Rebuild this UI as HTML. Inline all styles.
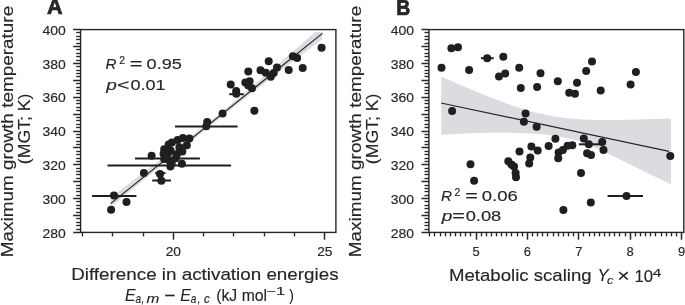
<!DOCTYPE html>
<html><head><meta charset="utf-8"><style>html,body{margin:0;padding:0;background:#fff;width:685px;height:305px;overflow:hidden}body{position:relative;font-family:"Liberation Sans", sans-serif}</style></head><body>
<svg width="685" height="305" viewBox="0 0 685 305" style="position:absolute;left:0;top:0;will-change:transform" font-family='"Liberation Sans", sans-serif' fill="#262626">
<style>text{stroke:#262626;stroke-width:0.15px}</style>
<polygon points="110.60,197.60 117.66,192.25 124.72,186.90 131.78,181.54 138.84,176.17 145.90,170.80 152.96,165.41 160.02,160.01 167.08,154.60 174.14,149.17 181.20,143.71 188.26,138.23 195.32,132.71 202.38,127.15 209.44,121.55 216.50,115.90 223.56,110.18 230.62,104.38 237.68,98.51 244.74,92.59 251.80,86.62 258.86,80.61 265.92,74.59 272.98,68.54 280.04,62.47 287.10,56.39 294.16,50.31 301.22,44.21 308.28,38.11 315.34,32.01 322.40,32.00 322.40,38.90 315.34,44.28 308.28,49.66 301.22,55.05 294.16,60.45 287.10,65.85 280.04,71.27 272.98,76.69 265.92,82.13 258.86,87.58 251.80,93.05 244.74,98.55 237.68,104.08 230.62,109.65 223.56,115.25 216.50,120.90 209.44,126.58 202.38,132.27 195.32,137.98 188.26,143.70 181.20,149.42 174.14,155.17 167.08,160.92 160.02,166.68 152.96,172.45 145.90,178.22 138.84,184.01 131.78,189.80 124.72,195.59 117.66,201.39 110.60,207.20" fill="#dbdcdf"/>
<polygon points="441.20,76.80 455.00,82.60 470.00,88.90 482.00,93.90 495.00,98.90 508.00,104.00 520.00,108.20 530.00,111.20 540.00,113.60 553.00,116.30 567.00,118.30 583.00,119.50 600.00,120.00 620.00,119.90 645.00,119.30 671.00,118.50 671.00,184.50 650.00,174.20 620.00,159.60 600.00,149.80 580.00,141.00 555.00,135.70 540.00,134.00 520.00,133.00 500.00,132.50 470.00,133.20 441.20,134.80" fill="#dbdcdf"/>
<line x1="110.60" y1="203.60" x2="322.40" y2="33.40" stroke="#262626" stroke-width="1.2" stroke-linecap="butt"/>
<line x1="441.00" y1="103.00" x2="669.00" y2="151.30" stroke="#262626" stroke-width="1.2" stroke-linecap="butt"/>
<line x1="92.10" y1="195.90" x2="136.40" y2="195.90" stroke="#1f1f1f" stroke-width="2.0" stroke-linecap="butt"/>
<line x1="152.20" y1="180.50" x2="171.00" y2="180.50" stroke="#1f1f1f" stroke-width="2.0" stroke-linecap="butt"/>
<line x1="155.20" y1="173.10" x2="165.40" y2="173.10" stroke="#1f1f1f" stroke-width="2.0" stroke-linecap="butt"/>
<line x1="107.50" y1="165.60" x2="231.10" y2="165.60" stroke="#1f1f1f" stroke-width="2.0" stroke-linecap="butt"/>
<line x1="135.00" y1="158.40" x2="199.90" y2="158.40" stroke="#1f1f1f" stroke-width="2.0" stroke-linecap="butt"/>
<line x1="175.00" y1="126.60" x2="237.60" y2="126.60" stroke="#1f1f1f" stroke-width="2.0" stroke-linecap="butt"/>
<line x1="229.20" y1="94.20" x2="243.70" y2="94.20" stroke="#1f1f1f" stroke-width="2.0" stroke-linecap="butt"/>
<line x1="480.90" y1="58.20" x2="493.70" y2="58.20" stroke="#1f1f1f" stroke-width="2.0" stroke-linecap="butt"/>
<line x1="578.90" y1="144.30" x2="602.20" y2="144.30" stroke="#1f1f1f" stroke-width="2.0" stroke-linecap="butt"/>
<line x1="607.60" y1="195.90" x2="643.00" y2="195.90" stroke="#1f1f1f" stroke-width="2.0" stroke-linecap="butt"/>
<circle cx="114.00" cy="195.60" r="4.0" fill="#1f1f1f"/>
<circle cx="126.50" cy="202.00" r="4.0" fill="#1f1f1f"/>
<circle cx="111.10" cy="209.70" r="4.0" fill="#1f1f1f"/>
<circle cx="143.90" cy="172.90" r="4.0" fill="#1f1f1f"/>
<circle cx="160.00" cy="174.00" r="4.0" fill="#1f1f1f"/>
<circle cx="161.40" cy="180.70" r="4.0" fill="#1f1f1f"/>
<circle cx="151.60" cy="155.80" r="4.0" fill="#1f1f1f"/>
<circle cx="189.40" cy="138.40" r="4.0" fill="#1f1f1f"/>
<circle cx="182.90" cy="138.00" r="4.0" fill="#1f1f1f"/>
<circle cx="177.60" cy="140.00" r="4.0" fill="#1f1f1f"/>
<circle cx="171.90" cy="142.40" r="4.0" fill="#1f1f1f"/>
<circle cx="168.70" cy="144.60" r="4.0" fill="#1f1f1f"/>
<circle cx="186.80" cy="145.30" r="4.0" fill="#1f1f1f"/>
<circle cx="179.40" cy="147.30" r="4.0" fill="#1f1f1f"/>
<circle cx="164.20" cy="149.20" r="4.0" fill="#1f1f1f"/>
<circle cx="170.60" cy="150.40" r="4.0" fill="#1f1f1f"/>
<circle cx="177.00" cy="154.30" r="4.0" fill="#1f1f1f"/>
<circle cx="182.30" cy="151.50" r="4.0" fill="#1f1f1f"/>
<circle cx="163.60" cy="153.80" r="4.0" fill="#1f1f1f"/>
<circle cx="168.50" cy="152.30" r="4.0" fill="#1f1f1f"/>
<circle cx="166.50" cy="157.60" r="4.0" fill="#1f1f1f"/>
<circle cx="169.10" cy="160.20" r="4.0" fill="#1f1f1f"/>
<circle cx="175.70" cy="158.20" r="4.0" fill="#1f1f1f"/>
<circle cx="171.70" cy="163.50" r="4.0" fill="#1f1f1f"/>
<circle cx="170.40" cy="166.60" r="4.0" fill="#1f1f1f"/>
<circle cx="181.90" cy="163.80" r="4.0" fill="#1f1f1f"/>
<circle cx="164.20" cy="159.00" r="4.0" fill="#1f1f1f"/>
<circle cx="207.20" cy="122.00" r="4.0" fill="#1f1f1f"/>
<circle cx="206.30" cy="126.20" r="4.0" fill="#1f1f1f"/>
<circle cx="222.60" cy="113.60" r="4.0" fill="#1f1f1f"/>
<circle cx="254.40" cy="110.80" r="4.0" fill="#1f1f1f"/>
<circle cx="230.70" cy="84.40" r="4.0" fill="#1f1f1f"/>
<circle cx="236.20" cy="91.00" r="4.0" fill="#1f1f1f"/>
<circle cx="236.30" cy="93.70" r="4.0" fill="#1f1f1f"/>
<circle cx="245.30" cy="82.50" r="4.0" fill="#1f1f1f"/>
<circle cx="249.60" cy="81.20" r="4.0" fill="#1f1f1f"/>
<circle cx="248.30" cy="85.60" r="4.0" fill="#1f1f1f"/>
<circle cx="252.00" cy="88.30" r="4.0" fill="#1f1f1f"/>
<circle cx="248.30" cy="71.40" r="4.0" fill="#1f1f1f"/>
<circle cx="260.50" cy="70.30" r="4.0" fill="#1f1f1f"/>
<circle cx="265.80" cy="72.80" r="4.0" fill="#1f1f1f"/>
<circle cx="270.80" cy="76.80" r="4.0" fill="#1f1f1f"/>
<circle cx="273.70" cy="73.00" r="4.0" fill="#1f1f1f"/>
<circle cx="277.00" cy="67.40" r="4.0" fill="#1f1f1f"/>
<circle cx="268.70" cy="61.20" r="4.0" fill="#1f1f1f"/>
<circle cx="288.70" cy="69.90" r="4.0" fill="#1f1f1f"/>
<circle cx="292.90" cy="56.20" r="4.0" fill="#1f1f1f"/>
<circle cx="297.10" cy="58.00" r="4.0" fill="#1f1f1f"/>
<circle cx="302.70" cy="67.90" r="4.0" fill="#1f1f1f"/>
<circle cx="321.60" cy="47.70" r="4.0" fill="#1f1f1f"/>
<circle cx="451.40" cy="48.30" r="4.0" fill="#1f1f1f"/>
<circle cx="458.00" cy="47.20" r="4.0" fill="#1f1f1f"/>
<circle cx="441.50" cy="67.70" r="4.0" fill="#1f1f1f"/>
<circle cx="469.10" cy="70.10" r="4.0" fill="#1f1f1f"/>
<circle cx="487.20" cy="58.20" r="4.0" fill="#1f1f1f"/>
<circle cx="503.30" cy="56.70" r="4.0" fill="#1f1f1f"/>
<circle cx="505.20" cy="73.60" r="4.0" fill="#1f1f1f"/>
<circle cx="499.00" cy="76.60" r="4.0" fill="#1f1f1f"/>
<circle cx="519.20" cy="67.70" r="4.0" fill="#1f1f1f"/>
<circle cx="520.80" cy="88.10" r="4.0" fill="#1f1f1f"/>
<circle cx="537.10" cy="86.90" r="4.0" fill="#1f1f1f"/>
<circle cx="540.50" cy="73.20" r="4.0" fill="#1f1f1f"/>
<circle cx="557.80" cy="81.20" r="4.0" fill="#1f1f1f"/>
<circle cx="577.00" cy="82.80" r="4.0" fill="#1f1f1f"/>
<circle cx="586.20" cy="70.90" r="4.0" fill="#1f1f1f"/>
<circle cx="592.00" cy="61.50" r="4.0" fill="#1f1f1f"/>
<circle cx="569.20" cy="92.70" r="4.0" fill="#1f1f1f"/>
<circle cx="575.00" cy="93.80" r="4.0" fill="#1f1f1f"/>
<circle cx="600.70" cy="90.40" r="4.0" fill="#1f1f1f"/>
<circle cx="630.60" cy="84.60" r="4.0" fill="#1f1f1f"/>
<circle cx="635.90" cy="72.00" r="4.0" fill="#1f1f1f"/>
<circle cx="452.10" cy="111.10" r="4.0" fill="#1f1f1f"/>
<circle cx="525.60" cy="113.60" r="4.0" fill="#1f1f1f"/>
<circle cx="523.90" cy="121.70" r="4.0" fill="#1f1f1f"/>
<circle cx="536.60" cy="126.80" r="4.0" fill="#1f1f1f"/>
<circle cx="555.40" cy="138.70" r="4.0" fill="#1f1f1f"/>
<circle cx="548.60" cy="145.90" r="4.0" fill="#1f1f1f"/>
<circle cx="531.40" cy="146.50" r="4.0" fill="#1f1f1f"/>
<circle cx="537.70" cy="150.50" r="4.0" fill="#1f1f1f"/>
<circle cx="519.50" cy="151.50" r="4.0" fill="#1f1f1f"/>
<circle cx="530.30" cy="157.40" r="4.0" fill="#1f1f1f"/>
<circle cx="529.20" cy="163.50" r="4.0" fill="#1f1f1f"/>
<circle cx="508.30" cy="161.30" r="4.0" fill="#1f1f1f"/>
<circle cx="511.40" cy="164.50" r="4.0" fill="#1f1f1f"/>
<circle cx="514.00" cy="166.50" r="4.0" fill="#1f1f1f"/>
<circle cx="515.60" cy="173.00" r="4.0" fill="#1f1f1f"/>
<circle cx="516.00" cy="177.30" r="4.0" fill="#1f1f1f"/>
<circle cx="558.60" cy="152.40" r="4.0" fill="#1f1f1f"/>
<circle cx="562.90" cy="149.90" r="4.0" fill="#1f1f1f"/>
<circle cx="567.60" cy="145.80" r="4.0" fill="#1f1f1f"/>
<circle cx="572.30" cy="145.30" r="4.0" fill="#1f1f1f"/>
<circle cx="558.20" cy="158.20" r="4.0" fill="#1f1f1f"/>
<circle cx="581.00" cy="173.00" r="4.0" fill="#1f1f1f"/>
<circle cx="583.80" cy="138.50" r="4.0" fill="#1f1f1f"/>
<circle cx="588.80" cy="144.30" r="4.0" fill="#1f1f1f"/>
<circle cx="602.20" cy="142.10" r="4.0" fill="#1f1f1f"/>
<circle cx="603.50" cy="149.90" r="4.0" fill="#1f1f1f"/>
<circle cx="587.10" cy="153.20" r="4.0" fill="#1f1f1f"/>
<circle cx="591.00" cy="154.90" r="4.0" fill="#1f1f1f"/>
<circle cx="670.30" cy="156.00" r="4.0" fill="#1f1f1f"/>
<circle cx="470.50" cy="164.30" r="4.0" fill="#1f1f1f"/>
<circle cx="474.10" cy="180.80" r="4.0" fill="#1f1f1f"/>
<circle cx="563.40" cy="210.10" r="4.0" fill="#1f1f1f"/>
<circle cx="590.80" cy="202.50" r="4.0" fill="#1f1f1f"/>
<circle cx="626.50" cy="195.90" r="4.0" fill="#1f1f1f"/>
<rect x="80.60" y="29.60" width="255.30" height="202.80" fill="none" stroke="#262626" stroke-width="1.4"/>
<line x1="73.20" y1="232.50" x2="80.60" y2="232.50" stroke="#262626" stroke-width="1.5" stroke-linecap="butt"/>
<line x1="76.20" y1="229.50" x2="80.60" y2="229.50" stroke="#262626" stroke-width="1.35" stroke-linecap="butt"/>
<line x1="76.20" y1="225.50" x2="80.60" y2="225.50" stroke="#262626" stroke-width="1.35" stroke-linecap="butt"/>
<line x1="76.20" y1="222.50" x2="80.60" y2="222.50" stroke="#262626" stroke-width="1.35" stroke-linecap="butt"/>
<line x1="76.20" y1="218.50" x2="80.60" y2="218.50" stroke="#262626" stroke-width="1.35" stroke-linecap="butt"/>
<line x1="73.20" y1="215.50" x2="80.60" y2="215.50" stroke="#262626" stroke-width="1.5" stroke-linecap="butt"/>
<line x1="76.20" y1="212.50" x2="80.60" y2="212.50" stroke="#262626" stroke-width="1.35" stroke-linecap="butt"/>
<line x1="76.20" y1="208.50" x2="80.60" y2="208.50" stroke="#262626" stroke-width="1.35" stroke-linecap="butt"/>
<line x1="76.20" y1="205.50" x2="80.60" y2="205.50" stroke="#262626" stroke-width="1.35" stroke-linecap="butt"/>
<line x1="76.20" y1="201.50" x2="80.60" y2="201.50" stroke="#262626" stroke-width="1.35" stroke-linecap="butt"/>
<line x1="73.20" y1="198.50" x2="80.60" y2="198.50" stroke="#262626" stroke-width="1.5" stroke-linecap="butt"/>
<line x1="76.20" y1="195.50" x2="80.60" y2="195.50" stroke="#262626" stroke-width="1.35" stroke-linecap="butt"/>
<line x1="76.20" y1="191.50" x2="80.60" y2="191.50" stroke="#262626" stroke-width="1.35" stroke-linecap="butt"/>
<line x1="76.20" y1="188.50" x2="80.60" y2="188.50" stroke="#262626" stroke-width="1.35" stroke-linecap="butt"/>
<line x1="76.20" y1="185.50" x2="80.60" y2="185.50" stroke="#262626" stroke-width="1.35" stroke-linecap="butt"/>
<line x1="73.20" y1="181.50" x2="80.60" y2="181.50" stroke="#262626" stroke-width="1.5" stroke-linecap="butt"/>
<line x1="76.20" y1="178.50" x2="80.60" y2="178.50" stroke="#262626" stroke-width="1.35" stroke-linecap="butt"/>
<line x1="76.20" y1="174.50" x2="80.60" y2="174.50" stroke="#262626" stroke-width="1.35" stroke-linecap="butt"/>
<line x1="76.20" y1="171.50" x2="80.60" y2="171.50" stroke="#262626" stroke-width="1.35" stroke-linecap="butt"/>
<line x1="76.20" y1="168.50" x2="80.60" y2="168.50" stroke="#262626" stroke-width="1.35" stroke-linecap="butt"/>
<line x1="73.20" y1="164.50" x2="80.60" y2="164.50" stroke="#262626" stroke-width="1.5" stroke-linecap="butt"/>
<line x1="76.20" y1="161.50" x2="80.60" y2="161.50" stroke="#262626" stroke-width="1.35" stroke-linecap="butt"/>
<line x1="76.20" y1="158.50" x2="80.60" y2="158.50" stroke="#262626" stroke-width="1.35" stroke-linecap="butt"/>
<line x1="76.20" y1="154.50" x2="80.60" y2="154.50" stroke="#262626" stroke-width="1.35" stroke-linecap="butt"/>
<line x1="76.20" y1="151.50" x2="80.60" y2="151.50" stroke="#262626" stroke-width="1.35" stroke-linecap="butt"/>
<line x1="73.20" y1="147.50" x2="80.60" y2="147.50" stroke="#262626" stroke-width="1.5" stroke-linecap="butt"/>
<line x1="76.20" y1="144.50" x2="80.60" y2="144.50" stroke="#262626" stroke-width="1.35" stroke-linecap="butt"/>
<line x1="76.20" y1="141.50" x2="80.60" y2="141.50" stroke="#262626" stroke-width="1.35" stroke-linecap="butt"/>
<line x1="76.20" y1="137.50" x2="80.60" y2="137.50" stroke="#262626" stroke-width="1.35" stroke-linecap="butt"/>
<line x1="76.20" y1="134.50" x2="80.60" y2="134.50" stroke="#262626" stroke-width="1.35" stroke-linecap="butt"/>
<line x1="73.20" y1="131.50" x2="80.60" y2="131.50" stroke="#262626" stroke-width="1.5" stroke-linecap="butt"/>
<line x1="76.20" y1="127.50" x2="80.60" y2="127.50" stroke="#262626" stroke-width="1.35" stroke-linecap="butt"/>
<line x1="76.20" y1="124.50" x2="80.60" y2="124.50" stroke="#262626" stroke-width="1.35" stroke-linecap="butt"/>
<line x1="76.20" y1="120.50" x2="80.60" y2="120.50" stroke="#262626" stroke-width="1.35" stroke-linecap="butt"/>
<line x1="76.20" y1="117.50" x2="80.60" y2="117.50" stroke="#262626" stroke-width="1.35" stroke-linecap="butt"/>
<line x1="73.20" y1="114.50" x2="80.60" y2="114.50" stroke="#262626" stroke-width="1.5" stroke-linecap="butt"/>
<line x1="76.20" y1="110.50" x2="80.60" y2="110.50" stroke="#262626" stroke-width="1.35" stroke-linecap="butt"/>
<line x1="76.20" y1="107.50" x2="80.60" y2="107.50" stroke="#262626" stroke-width="1.35" stroke-linecap="butt"/>
<line x1="76.20" y1="103.50" x2="80.60" y2="103.50" stroke="#262626" stroke-width="1.35" stroke-linecap="butt"/>
<line x1="76.20" y1="100.50" x2="80.60" y2="100.50" stroke="#262626" stroke-width="1.35" stroke-linecap="butt"/>
<line x1="73.20" y1="97.50" x2="80.60" y2="97.50" stroke="#262626" stroke-width="1.5" stroke-linecap="butt"/>
<line x1="76.20" y1="93.50" x2="80.60" y2="93.50" stroke="#262626" stroke-width="1.35" stroke-linecap="butt"/>
<line x1="76.20" y1="90.50" x2="80.60" y2="90.50" stroke="#262626" stroke-width="1.35" stroke-linecap="butt"/>
<line x1="76.20" y1="87.50" x2="80.60" y2="87.50" stroke="#262626" stroke-width="1.35" stroke-linecap="butt"/>
<line x1="76.20" y1="83.50" x2="80.60" y2="83.50" stroke="#262626" stroke-width="1.35" stroke-linecap="butt"/>
<line x1="73.20" y1="80.50" x2="80.60" y2="80.50" stroke="#262626" stroke-width="1.5" stroke-linecap="butt"/>
<line x1="76.20" y1="76.50" x2="80.60" y2="76.50" stroke="#262626" stroke-width="1.35" stroke-linecap="butt"/>
<line x1="76.20" y1="73.50" x2="80.60" y2="73.50" stroke="#262626" stroke-width="1.35" stroke-linecap="butt"/>
<line x1="76.20" y1="70.50" x2="80.60" y2="70.50" stroke="#262626" stroke-width="1.35" stroke-linecap="butt"/>
<line x1="76.20" y1="66.50" x2="80.60" y2="66.50" stroke="#262626" stroke-width="1.35" stroke-linecap="butt"/>
<line x1="73.20" y1="63.50" x2="80.60" y2="63.50" stroke="#262626" stroke-width="1.5" stroke-linecap="butt"/>
<line x1="76.20" y1="60.50" x2="80.60" y2="60.50" stroke="#262626" stroke-width="1.35" stroke-linecap="butt"/>
<line x1="76.20" y1="56.50" x2="80.60" y2="56.50" stroke="#262626" stroke-width="1.35" stroke-linecap="butt"/>
<line x1="76.20" y1="53.50" x2="80.60" y2="53.50" stroke="#262626" stroke-width="1.35" stroke-linecap="butt"/>
<line x1="76.20" y1="49.50" x2="80.60" y2="49.50" stroke="#262626" stroke-width="1.35" stroke-linecap="butt"/>
<line x1="73.20" y1="46.50" x2="80.60" y2="46.50" stroke="#262626" stroke-width="1.5" stroke-linecap="butt"/>
<line x1="76.20" y1="43.50" x2="80.60" y2="43.50" stroke="#262626" stroke-width="1.35" stroke-linecap="butt"/>
<line x1="76.20" y1="39.50" x2="80.60" y2="39.50" stroke="#262626" stroke-width="1.35" stroke-linecap="butt"/>
<line x1="76.20" y1="36.50" x2="80.60" y2="36.50" stroke="#262626" stroke-width="1.35" stroke-linecap="butt"/>
<line x1="76.20" y1="32.50" x2="80.60" y2="32.50" stroke="#262626" stroke-width="1.35" stroke-linecap="butt"/>
<line x1="73.20" y1="29.50" x2="80.60" y2="29.50" stroke="#262626" stroke-width="1.5" stroke-linecap="butt"/>
<line x1="82.50" y1="232.40" x2="82.50" y2="236.40" stroke="#262626" stroke-width="1.35" stroke-linecap="butt"/>
<line x1="112.50" y1="232.40" x2="112.50" y2="236.40" stroke="#262626" stroke-width="1.35" stroke-linecap="butt"/>
<line x1="143.50" y1="232.40" x2="143.50" y2="236.40" stroke="#262626" stroke-width="1.35" stroke-linecap="butt"/>
<line x1="173.50" y1="232.40" x2="173.50" y2="239.70" stroke="#262626" stroke-width="1.5" stroke-linecap="butt"/>
<line x1="203.50" y1="232.40" x2="203.50" y2="236.40" stroke="#262626" stroke-width="1.35" stroke-linecap="butt"/>
<line x1="233.50" y1="232.40" x2="233.50" y2="236.40" stroke="#262626" stroke-width="1.35" stroke-linecap="butt"/>
<line x1="264.50" y1="232.40" x2="264.50" y2="236.40" stroke="#262626" stroke-width="1.35" stroke-linecap="butt"/>
<line x1="294.50" y1="232.40" x2="294.50" y2="236.40" stroke="#262626" stroke-width="1.35" stroke-linecap="butt"/>
<line x1="324.50" y1="232.40" x2="324.50" y2="239.70" stroke="#262626" stroke-width="1.5" stroke-linecap="butt"/>
<rect x="428.90" y="29.60" width="254.90" height="202.80" fill="none" stroke="#262626" stroke-width="1.4"/>
<line x1="421.50" y1="232.50" x2="428.90" y2="232.50" stroke="#262626" stroke-width="1.5" stroke-linecap="butt"/>
<line x1="424.50" y1="229.50" x2="428.90" y2="229.50" stroke="#262626" stroke-width="1.35" stroke-linecap="butt"/>
<line x1="424.50" y1="225.50" x2="428.90" y2="225.50" stroke="#262626" stroke-width="1.35" stroke-linecap="butt"/>
<line x1="424.50" y1="222.50" x2="428.90" y2="222.50" stroke="#262626" stroke-width="1.35" stroke-linecap="butt"/>
<line x1="424.50" y1="218.50" x2="428.90" y2="218.50" stroke="#262626" stroke-width="1.35" stroke-linecap="butt"/>
<line x1="421.50" y1="215.50" x2="428.90" y2="215.50" stroke="#262626" stroke-width="1.5" stroke-linecap="butt"/>
<line x1="424.50" y1="212.50" x2="428.90" y2="212.50" stroke="#262626" stroke-width="1.35" stroke-linecap="butt"/>
<line x1="424.50" y1="208.50" x2="428.90" y2="208.50" stroke="#262626" stroke-width="1.35" stroke-linecap="butt"/>
<line x1="424.50" y1="205.50" x2="428.90" y2="205.50" stroke="#262626" stroke-width="1.35" stroke-linecap="butt"/>
<line x1="424.50" y1="201.50" x2="428.90" y2="201.50" stroke="#262626" stroke-width="1.35" stroke-linecap="butt"/>
<line x1="421.50" y1="198.50" x2="428.90" y2="198.50" stroke="#262626" stroke-width="1.5" stroke-linecap="butt"/>
<line x1="424.50" y1="195.50" x2="428.90" y2="195.50" stroke="#262626" stroke-width="1.35" stroke-linecap="butt"/>
<line x1="424.50" y1="191.50" x2="428.90" y2="191.50" stroke="#262626" stroke-width="1.35" stroke-linecap="butt"/>
<line x1="424.50" y1="188.50" x2="428.90" y2="188.50" stroke="#262626" stroke-width="1.35" stroke-linecap="butt"/>
<line x1="424.50" y1="185.50" x2="428.90" y2="185.50" stroke="#262626" stroke-width="1.35" stroke-linecap="butt"/>
<line x1="421.50" y1="181.50" x2="428.90" y2="181.50" stroke="#262626" stroke-width="1.5" stroke-linecap="butt"/>
<line x1="424.50" y1="178.50" x2="428.90" y2="178.50" stroke="#262626" stroke-width="1.35" stroke-linecap="butt"/>
<line x1="424.50" y1="174.50" x2="428.90" y2="174.50" stroke="#262626" stroke-width="1.35" stroke-linecap="butt"/>
<line x1="424.50" y1="171.50" x2="428.90" y2="171.50" stroke="#262626" stroke-width="1.35" stroke-linecap="butt"/>
<line x1="424.50" y1="168.50" x2="428.90" y2="168.50" stroke="#262626" stroke-width="1.35" stroke-linecap="butt"/>
<line x1="421.50" y1="164.50" x2="428.90" y2="164.50" stroke="#262626" stroke-width="1.5" stroke-linecap="butt"/>
<line x1="424.50" y1="161.50" x2="428.90" y2="161.50" stroke="#262626" stroke-width="1.35" stroke-linecap="butt"/>
<line x1="424.50" y1="158.50" x2="428.90" y2="158.50" stroke="#262626" stroke-width="1.35" stroke-linecap="butt"/>
<line x1="424.50" y1="154.50" x2="428.90" y2="154.50" stroke="#262626" stroke-width="1.35" stroke-linecap="butt"/>
<line x1="424.50" y1="151.50" x2="428.90" y2="151.50" stroke="#262626" stroke-width="1.35" stroke-linecap="butt"/>
<line x1="421.50" y1="147.50" x2="428.90" y2="147.50" stroke="#262626" stroke-width="1.5" stroke-linecap="butt"/>
<line x1="424.50" y1="144.50" x2="428.90" y2="144.50" stroke="#262626" stroke-width="1.35" stroke-linecap="butt"/>
<line x1="424.50" y1="141.50" x2="428.90" y2="141.50" stroke="#262626" stroke-width="1.35" stroke-linecap="butt"/>
<line x1="424.50" y1="137.50" x2="428.90" y2="137.50" stroke="#262626" stroke-width="1.35" stroke-linecap="butt"/>
<line x1="424.50" y1="134.50" x2="428.90" y2="134.50" stroke="#262626" stroke-width="1.35" stroke-linecap="butt"/>
<line x1="421.50" y1="131.50" x2="428.90" y2="131.50" stroke="#262626" stroke-width="1.5" stroke-linecap="butt"/>
<line x1="424.50" y1="127.50" x2="428.90" y2="127.50" stroke="#262626" stroke-width="1.35" stroke-linecap="butt"/>
<line x1="424.50" y1="124.50" x2="428.90" y2="124.50" stroke="#262626" stroke-width="1.35" stroke-linecap="butt"/>
<line x1="424.50" y1="120.50" x2="428.90" y2="120.50" stroke="#262626" stroke-width="1.35" stroke-linecap="butt"/>
<line x1="424.50" y1="117.50" x2="428.90" y2="117.50" stroke="#262626" stroke-width="1.35" stroke-linecap="butt"/>
<line x1="421.50" y1="114.50" x2="428.90" y2="114.50" stroke="#262626" stroke-width="1.5" stroke-linecap="butt"/>
<line x1="424.50" y1="110.50" x2="428.90" y2="110.50" stroke="#262626" stroke-width="1.35" stroke-linecap="butt"/>
<line x1="424.50" y1="107.50" x2="428.90" y2="107.50" stroke="#262626" stroke-width="1.35" stroke-linecap="butt"/>
<line x1="424.50" y1="103.50" x2="428.90" y2="103.50" stroke="#262626" stroke-width="1.35" stroke-linecap="butt"/>
<line x1="424.50" y1="100.50" x2="428.90" y2="100.50" stroke="#262626" stroke-width="1.35" stroke-linecap="butt"/>
<line x1="421.50" y1="97.50" x2="428.90" y2="97.50" stroke="#262626" stroke-width="1.5" stroke-linecap="butt"/>
<line x1="424.50" y1="93.50" x2="428.90" y2="93.50" stroke="#262626" stroke-width="1.35" stroke-linecap="butt"/>
<line x1="424.50" y1="90.50" x2="428.90" y2="90.50" stroke="#262626" stroke-width="1.35" stroke-linecap="butt"/>
<line x1="424.50" y1="87.50" x2="428.90" y2="87.50" stroke="#262626" stroke-width="1.35" stroke-linecap="butt"/>
<line x1="424.50" y1="83.50" x2="428.90" y2="83.50" stroke="#262626" stroke-width="1.35" stroke-linecap="butt"/>
<line x1="421.50" y1="80.50" x2="428.90" y2="80.50" stroke="#262626" stroke-width="1.5" stroke-linecap="butt"/>
<line x1="424.50" y1="76.50" x2="428.90" y2="76.50" stroke="#262626" stroke-width="1.35" stroke-linecap="butt"/>
<line x1="424.50" y1="73.50" x2="428.90" y2="73.50" stroke="#262626" stroke-width="1.35" stroke-linecap="butt"/>
<line x1="424.50" y1="70.50" x2="428.90" y2="70.50" stroke="#262626" stroke-width="1.35" stroke-linecap="butt"/>
<line x1="424.50" y1="66.50" x2="428.90" y2="66.50" stroke="#262626" stroke-width="1.35" stroke-linecap="butt"/>
<line x1="421.50" y1="63.50" x2="428.90" y2="63.50" stroke="#262626" stroke-width="1.5" stroke-linecap="butt"/>
<line x1="424.50" y1="60.50" x2="428.90" y2="60.50" stroke="#262626" stroke-width="1.35" stroke-linecap="butt"/>
<line x1="424.50" y1="56.50" x2="428.90" y2="56.50" stroke="#262626" stroke-width="1.35" stroke-linecap="butt"/>
<line x1="424.50" y1="53.50" x2="428.90" y2="53.50" stroke="#262626" stroke-width="1.35" stroke-linecap="butt"/>
<line x1="424.50" y1="49.50" x2="428.90" y2="49.50" stroke="#262626" stroke-width="1.35" stroke-linecap="butt"/>
<line x1="421.50" y1="46.50" x2="428.90" y2="46.50" stroke="#262626" stroke-width="1.5" stroke-linecap="butt"/>
<line x1="424.50" y1="43.50" x2="428.90" y2="43.50" stroke="#262626" stroke-width="1.35" stroke-linecap="butt"/>
<line x1="424.50" y1="39.50" x2="428.90" y2="39.50" stroke="#262626" stroke-width="1.35" stroke-linecap="butt"/>
<line x1="424.50" y1="36.50" x2="428.90" y2="36.50" stroke="#262626" stroke-width="1.35" stroke-linecap="butt"/>
<line x1="424.50" y1="32.50" x2="428.90" y2="32.50" stroke="#262626" stroke-width="1.35" stroke-linecap="butt"/>
<line x1="421.50" y1="29.50" x2="428.90" y2="29.50" stroke="#262626" stroke-width="1.5" stroke-linecap="butt"/>
<line x1="429.50" y1="232.40" x2="429.50" y2="236.40" stroke="#262626" stroke-width="1.35" stroke-linecap="butt"/>
<line x1="434.50" y1="232.40" x2="434.50" y2="236.40" stroke="#262626" stroke-width="1.35" stroke-linecap="butt"/>
<line x1="440.50" y1="232.40" x2="440.50" y2="236.40" stroke="#262626" stroke-width="1.35" stroke-linecap="butt"/>
<line x1="445.50" y1="232.40" x2="445.50" y2="236.40" stroke="#262626" stroke-width="1.35" stroke-linecap="butt"/>
<line x1="450.50" y1="232.40" x2="450.50" y2="236.40" stroke="#262626" stroke-width="1.35" stroke-linecap="butt"/>
<line x1="455.50" y1="232.40" x2="455.50" y2="236.40" stroke="#262626" stroke-width="1.35" stroke-linecap="butt"/>
<line x1="460.50" y1="232.40" x2="460.50" y2="236.40" stroke="#262626" stroke-width="1.35" stroke-linecap="butt"/>
<line x1="465.50" y1="232.40" x2="465.50" y2="236.40" stroke="#262626" stroke-width="1.35" stroke-linecap="butt"/>
<line x1="470.50" y1="232.40" x2="470.50" y2="236.40" stroke="#262626" stroke-width="1.35" stroke-linecap="butt"/>
<line x1="476.50" y1="232.40" x2="476.50" y2="239.70" stroke="#262626" stroke-width="1.5" stroke-linecap="butt"/>
<line x1="481.50" y1="232.40" x2="481.50" y2="236.40" stroke="#262626" stroke-width="1.35" stroke-linecap="butt"/>
<line x1="486.50" y1="232.40" x2="486.50" y2="236.40" stroke="#262626" stroke-width="1.35" stroke-linecap="butt"/>
<line x1="491.50" y1="232.40" x2="491.50" y2="236.40" stroke="#262626" stroke-width="1.35" stroke-linecap="butt"/>
<line x1="496.50" y1="232.40" x2="496.50" y2="236.40" stroke="#262626" stroke-width="1.35" stroke-linecap="butt"/>
<line x1="501.50" y1="232.40" x2="501.50" y2="236.40" stroke="#262626" stroke-width="1.35" stroke-linecap="butt"/>
<line x1="506.50" y1="232.40" x2="506.50" y2="236.40" stroke="#262626" stroke-width="1.35" stroke-linecap="butt"/>
<line x1="511.50" y1="232.40" x2="511.50" y2="236.40" stroke="#262626" stroke-width="1.35" stroke-linecap="butt"/>
<line x1="517.50" y1="232.40" x2="517.50" y2="236.40" stroke="#262626" stroke-width="1.35" stroke-linecap="butt"/>
<line x1="522.50" y1="232.40" x2="522.50" y2="236.40" stroke="#262626" stroke-width="1.35" stroke-linecap="butt"/>
<line x1="527.50" y1="232.40" x2="527.50" y2="239.70" stroke="#262626" stroke-width="1.5" stroke-linecap="butt"/>
<line x1="532.50" y1="232.40" x2="532.50" y2="236.40" stroke="#262626" stroke-width="1.35" stroke-linecap="butt"/>
<line x1="537.50" y1="232.40" x2="537.50" y2="236.40" stroke="#262626" stroke-width="1.35" stroke-linecap="butt"/>
<line x1="542.50" y1="232.40" x2="542.50" y2="236.40" stroke="#262626" stroke-width="1.35" stroke-linecap="butt"/>
<line x1="547.50" y1="232.40" x2="547.50" y2="236.40" stroke="#262626" stroke-width="1.35" stroke-linecap="butt"/>
<line x1="553.50" y1="232.40" x2="553.50" y2="236.40" stroke="#262626" stroke-width="1.35" stroke-linecap="butt"/>
<line x1="558.50" y1="232.40" x2="558.50" y2="236.40" stroke="#262626" stroke-width="1.35" stroke-linecap="butt"/>
<line x1="563.50" y1="232.40" x2="563.50" y2="236.40" stroke="#262626" stroke-width="1.35" stroke-linecap="butt"/>
<line x1="568.50" y1="232.40" x2="568.50" y2="236.40" stroke="#262626" stroke-width="1.35" stroke-linecap="butt"/>
<line x1="573.50" y1="232.40" x2="573.50" y2="236.40" stroke="#262626" stroke-width="1.35" stroke-linecap="butt"/>
<line x1="578.50" y1="232.40" x2="578.50" y2="239.70" stroke="#262626" stroke-width="1.5" stroke-linecap="butt"/>
<line x1="583.50" y1="232.40" x2="583.50" y2="236.40" stroke="#262626" stroke-width="1.35" stroke-linecap="butt"/>
<line x1="589.50" y1="232.40" x2="589.50" y2="236.40" stroke="#262626" stroke-width="1.35" stroke-linecap="butt"/>
<line x1="594.50" y1="232.40" x2="594.50" y2="236.40" stroke="#262626" stroke-width="1.35" stroke-linecap="butt"/>
<line x1="599.50" y1="232.40" x2="599.50" y2="236.40" stroke="#262626" stroke-width="1.35" stroke-linecap="butt"/>
<line x1="604.50" y1="232.40" x2="604.50" y2="236.40" stroke="#262626" stroke-width="1.35" stroke-linecap="butt"/>
<line x1="609.50" y1="232.40" x2="609.50" y2="236.40" stroke="#262626" stroke-width="1.35" stroke-linecap="butt"/>
<line x1="614.50" y1="232.40" x2="614.50" y2="236.40" stroke="#262626" stroke-width="1.35" stroke-linecap="butt"/>
<line x1="619.50" y1="232.40" x2="619.50" y2="236.40" stroke="#262626" stroke-width="1.35" stroke-linecap="butt"/>
<line x1="625.50" y1="232.40" x2="625.50" y2="236.40" stroke="#262626" stroke-width="1.35" stroke-linecap="butt"/>
<line x1="630.50" y1="232.40" x2="630.50" y2="239.70" stroke="#262626" stroke-width="1.5" stroke-linecap="butt"/>
<line x1="635.50" y1="232.40" x2="635.50" y2="236.40" stroke="#262626" stroke-width="1.35" stroke-linecap="butt"/>
<line x1="640.50" y1="232.40" x2="640.50" y2="236.40" stroke="#262626" stroke-width="1.35" stroke-linecap="butt"/>
<line x1="645.50" y1="232.40" x2="645.50" y2="236.40" stroke="#262626" stroke-width="1.35" stroke-linecap="butt"/>
<line x1="650.50" y1="232.40" x2="650.50" y2="236.40" stroke="#262626" stroke-width="1.35" stroke-linecap="butt"/>
<line x1="655.50" y1="232.40" x2="655.50" y2="236.40" stroke="#262626" stroke-width="1.35" stroke-linecap="butt"/>
<line x1="661.50" y1="232.40" x2="661.50" y2="236.40" stroke="#262626" stroke-width="1.35" stroke-linecap="butt"/>
<line x1="666.50" y1="232.40" x2="666.50" y2="236.40" stroke="#262626" stroke-width="1.35" stroke-linecap="butt"/>
<line x1="671.50" y1="232.40" x2="671.50" y2="236.40" stroke="#262626" stroke-width="1.35" stroke-linecap="butt"/>
<line x1="676.50" y1="232.40" x2="676.50" y2="236.40" stroke="#262626" stroke-width="1.35" stroke-linecap="butt"/>
<line x1="681.50" y1="232.40" x2="681.50" y2="239.70" stroke="#262626" stroke-width="1.5" stroke-linecap="butt"/>
<text x="65.90" y="237.60" font-size="12.4" textLength="23.30" lengthAdjust="spacingAndGlyphs" text-anchor="end">280</text>
<text x="414.00" y="237.60" font-size="12.4" textLength="23.30" lengthAdjust="spacingAndGlyphs" text-anchor="end">280</text>
<text x="65.90" y="203.80" font-size="12.4" textLength="23.30" lengthAdjust="spacingAndGlyphs" text-anchor="end">300</text>
<text x="414.00" y="203.80" font-size="12.4" textLength="23.30" lengthAdjust="spacingAndGlyphs" text-anchor="end">300</text>
<text x="65.90" y="170.00" font-size="12.4" textLength="23.30" lengthAdjust="spacingAndGlyphs" text-anchor="end">320</text>
<text x="414.00" y="170.00" font-size="12.4" textLength="23.30" lengthAdjust="spacingAndGlyphs" text-anchor="end">320</text>
<text x="65.90" y="136.20" font-size="12.4" textLength="23.30" lengthAdjust="spacingAndGlyphs" text-anchor="end">340</text>
<text x="414.00" y="136.20" font-size="12.4" textLength="23.30" lengthAdjust="spacingAndGlyphs" text-anchor="end">340</text>
<text x="65.90" y="102.40" font-size="12.4" textLength="23.30" lengthAdjust="spacingAndGlyphs" text-anchor="end">360</text>
<text x="414.00" y="102.40" font-size="12.4" textLength="23.30" lengthAdjust="spacingAndGlyphs" text-anchor="end">360</text>
<text x="65.90" y="68.60" font-size="12.4" textLength="23.30" lengthAdjust="spacingAndGlyphs" text-anchor="end">380</text>
<text x="414.00" y="68.60" font-size="12.4" textLength="23.30" lengthAdjust="spacingAndGlyphs" text-anchor="end">380</text>
<text x="65.90" y="34.80" font-size="12.4" textLength="23.30" lengthAdjust="spacingAndGlyphs" text-anchor="end">400</text>
<text x="414.00" y="34.80" font-size="12.4" textLength="23.30" lengthAdjust="spacingAndGlyphs" text-anchor="end">400</text>
<text x="173.30" y="256.40" font-size="12.4" textLength="15.30" lengthAdjust="spacingAndGlyphs" text-anchor="middle">20</text>
<text x="324.80" y="256.40" font-size="12.4" textLength="15.30" lengthAdjust="spacingAndGlyphs" text-anchor="middle">25</text>
<text x="476.00" y="256.40" font-size="12.4" textLength="7.20" lengthAdjust="spacingAndGlyphs" text-anchor="middle">5</text>
<text x="527.40" y="256.40" font-size="12.4" textLength="7.20" lengthAdjust="spacingAndGlyphs" text-anchor="middle">6</text>
<text x="578.80" y="256.40" font-size="12.4" textLength="7.20" lengthAdjust="spacingAndGlyphs" text-anchor="middle">7</text>
<text x="630.20" y="256.40" font-size="12.4" textLength="7.20" lengthAdjust="spacingAndGlyphs" text-anchor="middle">8</text>
<text x="681.60" y="256.40" font-size="12.4" textLength="7.20" lengthAdjust="spacingAndGlyphs" text-anchor="middle">9</text>
<text x="46.90" y="14.30" font-size="21.2" font-weight="bold" textLength="15.60" lengthAdjust="spacingAndGlyphs" text-anchor="start" style="stroke-width:0.7px">A</text>
<text x="396.20" y="14.50" font-size="21.2" font-weight="bold" textLength="14.00" lengthAdjust="spacingAndGlyphs" text-anchor="start" style="stroke-width:0.7px">B</text>
<text transform="translate(12.60,257.2) rotate(-90)" font-size="16.4" textLength="251.4" lengthAdjust="spacingAndGlyphs">Maximum growth temperature</text>
<text transform="translate(30.20,164.2) rotate(-90)" font-size="16.4" textLength="70.6" lengthAdjust="spacingAndGlyphs">(MGT; K)</text>
<text transform="translate(360.80,257.2) rotate(-90)" font-size="16.4" textLength="251.4" lengthAdjust="spacingAndGlyphs">Maximum growth temperature</text>
<text transform="translate(378.40,164.2) rotate(-90)" font-size="16.4" textLength="70.6" lengthAdjust="spacingAndGlyphs">(MGT; K)</text>
<text x="71.20" y="279.80" font-size="16.6" textLength="267.40" lengthAdjust="spacingAndGlyphs" text-anchor="start">Difference in activation energies</text>
<text x="124.90" y="300.90" font-size="16.6" font-style="italic" textLength="10.60" lengthAdjust="spacingAndGlyphs" text-anchor="start">E</text>
<text x="135.60" y="303.20" font-size="12.2" font-style="italic" textLength="5.60" lengthAdjust="spacingAndGlyphs" text-anchor="start">a</text>
<text x="141.40" y="303.20" font-size="12.2" font-style="italic" textLength="2.60" lengthAdjust="spacingAndGlyphs" text-anchor="start">,</text>
<text x="146.40" y="303.20" font-size="12.2" font-style="italic" textLength="12.80" lengthAdjust="spacingAndGlyphs" text-anchor="start">m</text>
<text x="164.30" y="300.90" font-size="16.6" textLength="11.20" lengthAdjust="spacingAndGlyphs" text-anchor="start">−</text>
<text x="180.20" y="300.90" font-size="16.6" font-style="italic" textLength="10.60" lengthAdjust="spacingAndGlyphs" text-anchor="start">E</text>
<text x="190.70" y="303.20" font-size="12.2" font-style="italic" textLength="5.60" lengthAdjust="spacingAndGlyphs" text-anchor="start">a</text>
<text x="197.70" y="303.20" font-size="12.2" font-style="italic" textLength="2.60" lengthAdjust="spacingAndGlyphs" text-anchor="start">,</text>
<text x="203.90" y="303.20" font-size="12.2" font-style="italic" textLength="5.80" lengthAdjust="spacingAndGlyphs" text-anchor="start">c</text>
<text x="216.20" y="300.90" font-size="16.6" textLength="50.90" lengthAdjust="spacingAndGlyphs" text-anchor="start">(kJ mol</text>
<text x="266.40" y="294.80" font-size="11.6" textLength="18.80" lengthAdjust="spacingAndGlyphs" text-anchor="start">−1</text>
<text x="289.20" y="300.90" font-size="16.6" textLength="4.60" lengthAdjust="spacingAndGlyphs" text-anchor="start">)</text>
<text x="449.00" y="281.40" font-size="16.6" textLength="142.60" lengthAdjust="spacingAndGlyphs" text-anchor="start">Metabolic scaling</text>
<text x="597.60" y="281.20" font-size="16.6" font-style="italic" textLength="11.00" lengthAdjust="spacingAndGlyphs" text-anchor="start">Y</text>
<text x="607.00" y="284.00" font-size="11.6" font-style="italic" textLength="6.30" lengthAdjust="spacingAndGlyphs" text-anchor="start">c</text>
<text x="617.30" y="281.60" font-size="18.2" textLength="12.40" lengthAdjust="spacingAndGlyphs" text-anchor="start">×</text>
<text x="634.40" y="281.60" font-size="16.6" textLength="18.60" lengthAdjust="spacingAndGlyphs" text-anchor="start">10</text>
<text x="652.80" y="276.60" font-size="11.6" textLength="8.60" lengthAdjust="spacingAndGlyphs" text-anchor="start">4</text>
<text x="105.60" y="68.60" font-size="15.0" font-style="italic" textLength="11.00" lengthAdjust="spacingAndGlyphs" text-anchor="start">R</text>
<text x="119.20" y="64.00" font-size="10.4" textLength="5.80" lengthAdjust="spacingAndGlyphs" text-anchor="start">2</text>
<text x="129.80" y="68.60" font-size="15.0" textLength="12.80" lengthAdjust="spacingAndGlyphs" text-anchor="start">=</text>
<text x="146.60" y="68.80" font-size="15.0" textLength="35.20" lengthAdjust="spacingAndGlyphs" text-anchor="start">0.95</text>
<text x="106.20" y="90.20" font-size="15.0" font-style="italic" textLength="10.60" lengthAdjust="spacingAndGlyphs" text-anchor="start">p</text>
<text x="117.00" y="90.20" font-size="15.0" textLength="12.40" lengthAdjust="spacingAndGlyphs" text-anchor="start">&lt;</text>
<text x="130.40" y="90.40" font-size="15.0" textLength="35.20" lengthAdjust="spacingAndGlyphs" text-anchor="start">0.01</text>
<text x="441.10" y="200.90" font-size="15.0" font-style="italic" textLength="11.00" lengthAdjust="spacingAndGlyphs" text-anchor="start">R</text>
<text x="454.40" y="196.20" font-size="10.4" textLength="5.80" lengthAdjust="spacingAndGlyphs" text-anchor="start">2</text>
<text x="465.20" y="200.90" font-size="15.0" textLength="12.60" lengthAdjust="spacingAndGlyphs" text-anchor="start">=</text>
<text x="481.80" y="201.10" font-size="15.0" textLength="36.00" lengthAdjust="spacingAndGlyphs" text-anchor="start">0.06</text>
<text x="441.80" y="221.00" font-size="15.0" font-style="italic" textLength="10.60" lengthAdjust="spacingAndGlyphs" text-anchor="start">p</text>
<text x="452.20" y="221.00" font-size="15.0" textLength="12.60" lengthAdjust="spacingAndGlyphs" text-anchor="start">=</text>
<text x="465.70" y="221.20" font-size="15.0" textLength="35.60" lengthAdjust="spacingAndGlyphs" text-anchor="start">0.08</text>
</svg>
</body></html>
